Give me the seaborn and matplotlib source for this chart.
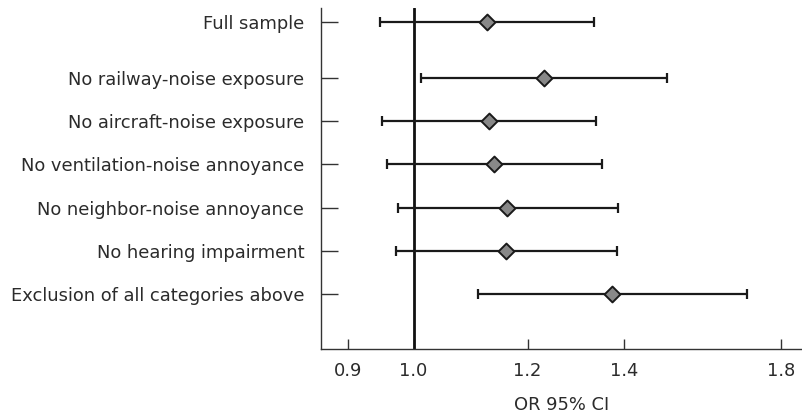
import numpy as np
import pandas as pd
import matplotlib
matplotlib.use("Agg")
import matplotlib.pyplot as plt
import seaborn as sns
from matplotlib.ticker import FixedLocator, NullLocator

# === Data ===
categories = [
    "Full sample",
    "No railway-noise exposure",
    "No aircraft-noise exposure",
    "No ventilation-noise annoyance",
    "No neighbor-noise annoyance",
    "No hearing impairment",
    "Exclusion of all categories above",
]
odds_ratio = [1.125, 1.233, 1.128, 1.137, 1.162, 1.160, 1.373]
ci_lower = [0.948, 1.012, 0.951, 0.958, 0.975, 0.973, 1.108]
ci_upper = [1.334, 1.501, 1.338, 1.352, 1.388, 1.385, 1.705]
x_ticks = [0.9, 1.0, 1.2, 1.4, 1.8]
x_ticklabels = ["0.9", "1.0", "1.2", "1.4", "1.8"]

df = pd.DataFrame({
    "group": categories,
    "or": odds_ratio,
    "lo": ci_lower,
    "hi": ci_upper,
})
# row positions: a little extra space after the full sample row
df["pos"] = np.arange(len(df)) + np.where(np.arange(len(df)) > 0, 0.3, 0.0)

sns.set_style("ticks")
plt.rcParams["font.family"] = ["DejaVu Sans"]
text_color = "#2b2b2b"
fsize = 12.9

fig = plt.figure(figsize=(8.02, 4.18), dpi=100)
ax = fig.add_axes([0.400, 0.165, 0.600, 0.816])

# reference line at OR = 1
ax.axvline(1.0, color="#111111", lw=2, zorder=1)

# confidence intervals
ax.errorbar(
    df["or"], df["pos"],
    xerr=[df["or"] - df["lo"], df["hi"] - df["or"]],
    fmt="none", ecolor="#1a1a1a", elinewidth=1.6, capsize=3.6, capthick=1.6,
    zorder=2,
)
# point estimates
sns.scatterplot(
    data=df, x="or", y="pos", ax=ax, marker="D", s=65,
    color="#888888", edgecolor="#1a1a1a", linewidth=1.4, zorder=3,
)

ax.set_xscale("log")
ax.set_xlim(0.862, 1.862)
ax.xaxis.set_major_locator(FixedLocator(x_ticks))
ax.xaxis.set_minor_locator(NullLocator())
ax.set_xticklabels(x_ticklabels)

ax.set_ylim(7.57, -0.32)
ax.set_yticks(df["pos"])
ax.set_yticklabels(df["group"])

ax.set_xlabel("OR 95% CI", fontsize=fsize, color=text_color, labelpad=12)
ax.set_ylabel("")

ax.tick_params(axis="y", direction="in", length=12, width=1, color="#333333",
               labelsize=fsize, labelcolor=text_color, pad=12)
ax.tick_params(axis="x", direction="in", length=7, width=1, color="#333333",
               labelsize=fsize, labelcolor=text_color, pad=9)

for side in ["top", "right"]:
    ax.spines[side].set_visible(False)
for side in ["left", "bottom"]:
    ax.spines[side].set_color("#333333")
    ax.spines[side].set_linewidth(1)

fig.savefig("out.png", dpi=100)
